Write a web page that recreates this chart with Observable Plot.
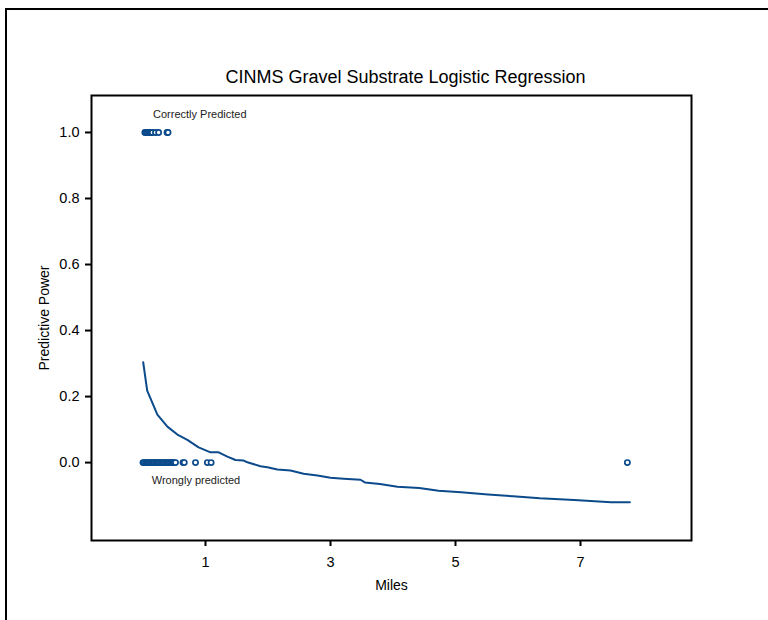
<!DOCTYPE html>
<html>
<head>
<meta charset="utf-8">
<script src="https://cdn.jsdelivr.net/npm/d3@7"></script>
<script src="https://cdn.jsdelivr.net/npm/@observablehq/plot@0.6"></script>
<style>
  html, body { margin: 0; padding: 0; background: #fff; }
  #wrap { position: relative; width: 768px; height: 620px; overflow: hidden; background: #fff; }
  #outer { position: absolute; left: 5px; top: 8px; width: 800px; height: 700px;
           border-left: 2px solid #000; border-top: 2px solid #000; z-index: 2; pointer-events: none; }
  #chart { position: absolute; left: 0; top: 0; z-index: 1; }
  #chart g[aria-label="x-axis tick label"], #chart g[aria-label="y-axis tick label"] { font-size: 14.5px !important; }
  #chart g[aria-label="x-axis tick label"] text, #chart g[aria-label="y-axis tick label"] text { font-size: 14.5px !important; }
</style>
</head>
<body>
<div id="wrap"><div id="chart"></div><div id="outer"></div></div>
<script>
const title = "CINMS Gravel Substrate Logistic Regression";
const xLabel = "Miles";
const yLabel = "Predictive Power";
const xTicks = [1, 3, 5, 7];
const yTicks = [0, 0.2, 0.4, 0.6, 0.8, 1.0];

// observed outcomes (open circles)
const correctMiles = [0.03, 0.05, 0.07, 0.09, 0.11, 0.13, 0.15, 0.20, 0.25, 0.385, 0.40];
const correctValue = 1.0;
const wrongMiles = [0.00, 0.02, 0.04, 0.06, 0.08, 0.10, 0.12, 0.14, 0.16, 0.18, 0.20, 0.22,
  0.24, 0.26, 0.28, 0.30, 0.32, 0.34, 0.36, 0.38, 0.40, 0.42, 0.44, 0.46, 0.48, 0.50, 0.52,
  0.64, 0.66, 0.84, 1.03, 1.09, 7.75];
const wrongValue = 0.0;

// fitted curve
const curveMiles = [0.003, 0.067, 0.23, 0.39, 0.55, 0.71, 0.89, 1.08, 1.21, 1.35, 1.48, 1.61,
  1.67, 1.88, 1.99, 2.15, 2.36, 2.57, 2.79, 3.0, 3.21, 3.48, 3.55, 3.79, 4.07, 4.42, 4.73,
  5.09, 5.52, 5.92, 6.35, 6.90, 7.49, 7.79];
const curvePower = [0.304, 0.218, 0.145, 0.109, 0.085, 0.069, 0.046, 0.031, 0.031, 0.018,
  0.008, 0.006, 0.001, -0.011, -0.014, -0.021, -0.024, -0.034, -0.039, -0.046, -0.049, -0.052,
  -0.060, -0.065, -0.073, -0.077, -0.085, -0.090, -0.097, -0.102, -0.108, -0.113, -0.120, -0.120];

const annotations = [
  {x: 0.16, y: 1.055, text: "Correctly Predicted"},
  {x: 0.14, y: -0.055, text: "Wrongly predicted"}
];

const curve = curveMiles.map((m, i) => ({x: m, y: curvePower[i]}));
const points = [
  ...correctMiles.map(m => ({x: m, y: correctValue})),
  ...wrongMiles.map(m => ({x: m, y: wrongValue}))
];

const blue = "#0b4a8b";

const plot = Plot.plot({
  width: 768,
  height: 620,
  marginLeft: 91,
  marginRight: 77,
  marginTop: 95,
  marginBottom: 80,
  style: {fontFamily: "'Liberation Sans', Arial, sans-serif", fontSize: "13px", background: "transparent", color: "black"},
  x: {domain: [-0.824, 8.776]},
  y: {domain: [-0.236, 1.112]},
  marks: [
    Plot.axisX({ticks: xTicks, tickSize: 6, tickPadding: 10, strokeWidth: 2, fontSize: 14.5, label: null}),
    Plot.axisY({ticks: yTicks, tickSize: 6, tickPadding: 6, strokeWidth: 2, fontSize: 14.5,
      tickFormat: d3.format(".1f"), label: null}),
    Plot.frame({stroke: "black", strokeWidth: 2}),
    Plot.line(curve, {x: "x", y: "y", stroke: blue, strokeWidth: 2}),
    Plot.dot(points, {x: "x", y: "y", r: 2.6, stroke: blue, strokeWidth: 1.7, fill: "white"}),
    Plot.text(annotations, {x: "x", y: "y", text: "text", textAnchor: "start", fontSize: 11, fill: "#222"}),
    Plot.text([title], {frameAnchor: "top", dy: -25, dx: 14, fontSize: 18, fill: "black"}),
    Plot.text([xLabel], {frameAnchor: "bottom", dy: 49, fontSize: 14, fill: "black"}),
    Plot.text([yLabel], {frameAnchor: "left", textAnchor: "middle", dx: -47, rotate: -90, fontSize: 14, fill: "black"})
  ]
});
document.getElementById("chart").appendChild(plot);
</script>
</body>
</html>
